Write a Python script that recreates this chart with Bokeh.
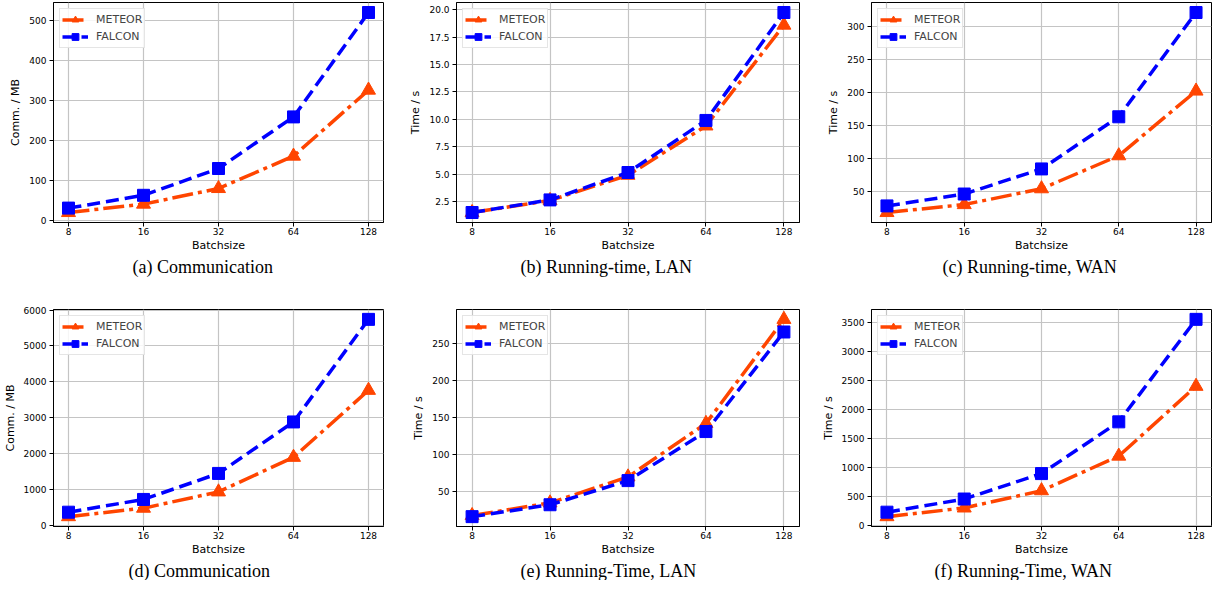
from bokeh.plotting import figure
from bokeh.layouts import gridplot
from bokeh.models import Range1d, FixedTicker, NumeralTickFormatter
from bokeh.embed import file_html
from bokeh.resources import INLINE

# ---------------- data ----------------
batch = [8, 16, 32, 64, 128]

a_meteor = [21, 42, 81, 162, 327]
a_falcon = [32, 64, 131, 260, 521]
b_meteor = [1.5, 2.6, 4.9, 9.4, 18.6]
b_falcon = [1.5, 2.65, 5.15, 9.9, 19.75]
c_meteor = [18, 30, 54, 104, 202]
c_falcon = [28, 46, 84, 163, 321]
d_meteor = [234, 470, 925, 1890, 3760]
d_falcon = [358, 714, 1440, 2877, 5740]
e_meteor = [18, 35, 70, 142, 282]
e_falcon = [16.5, 32.5, 65, 131, 265]
f_meteor = [150, 300, 598, 1195, 2400]
f_falcon = [227, 454, 893, 1786, 3555]

a_ticks = [0, 100, 200, 300, 400, 500]
b_ticks = [2.5, 5.0, 7.5, 10.0, 12.5, 15.0, 17.5, 20.0]
c_ticks = [50, 100, 150, 200, 250, 300]
d_ticks = [0, 1000, 2000, 3000, 4000, 5000, 6000]
e_ticks = [50, 100, 150, 200, 250]
f_ticks = [0, 500, 1000, 1500, 2000, 2500, 3000, 3500]

captions = ["(a) Communication", "(b) Running-time, LAN", "(c) Running-time, WAN",
            "(d) Communication", "(e) Running-Time, LAN", "(f) Running-Time, WAN"]
ylabels = ["Comm. / MB", "Time / s", "Time / s", "Comm. / MB", "Time / s", "Time / s"]
xlabel = "Batchsize"
names = ["METEOR", "FALCON"]

ORANGE = "#FF4500"
BLUE = "#0000FF"


def make(meteor, falcon, ticks, fmt, caption, ylabel, w, h, mbl, mbr, mbt, mbb, cap_off):
    lo = min(min(meteor), min(falcon))
    hi = max(max(meteor), max(falcon))
    pad = 0.05 * (hi - lo)
    p = figure(width=w, height=h, x_axis_type="log",
               x_range=Range1d(batch[0] / 2 ** 0.2, batch[-1] * 2 ** 0.2),
               y_range=Range1d(lo - pad, hi + pad),
               output_backend="svg", toolbar_location=None,
               title=caption, title_location="below",
               min_border_left=mbl, min_border_right=mbr,
               min_border_top=mbt, min_border_bottom=mbb)
    p.title.align = "left"
    p.title.offset = cap_off
    p.title.text_font = "Liberation Serif"
    p.title.text_font_size = "18px"
    p.title.text_font_style = "normal"
    p.title.text_color = "black"
    p.title.standoff = 0

    p.line(batch, meteor, color=ORANGE, line_width=3.5, line_dash="21 5 4 5", legend_label=names[0])
    p.scatter(batch, meteor, marker="triangle", size=14, color=ORANGE, legend_label=names[0])
    p.line(batch, falcon, color=BLUE, line_width=3.5, line_dash="13 6", legend_label=names[1])
    p.scatter(batch, falcon, marker="square", size=12, color=BLUE, legend_label=names[1])

    p.xaxis.ticker = FixedTicker(ticks=batch)
    p.xaxis.formatter = NumeralTickFormatter(format="0")
    p.yaxis.ticker = FixedTicker(ticks=ticks)
    p.yaxis.formatter = NumeralTickFormatter(format=fmt)
    p.xaxis.axis_label = xlabel
    p.yaxis.axis_label = ylabel

    for ax in (p.xaxis, p.yaxis):
        ax.axis_line_color = "black"
        ax.major_tick_line_color = "black"
        ax.major_tick_out = 4
        ax.major_tick_in = 0
        ax.minor_tick_line_color = None
        ax.major_label_text_font = "DejaVu Sans"
        ax.major_label_text_font_size = "9px"
        ax.major_label_text_color = "black"
        ax.axis_label_text_font = "DejaVu Sans"
        ax.axis_label_text_font_size = "11px"
        ax.axis_label_text_font_style = "normal"
        ax.axis_label_text_color = "black"
    p.xaxis.major_label_standoff = 1
    p.xaxis.axis_label_standoff = 1
    p.yaxis.major_label_standoff = 3
    p.yaxis.axis_label_standoff = 4

    p.grid.grid_line_color = "#c4c4c4"
    p.grid.grid_line_width = 1.2
    p.outline_line_color = "black"
    p.outline_line_width = 1
    p.background_fill_color = "white"
    p.border_fill_color = "white"

    lg = p.legend[0]
    lg.location = "top_left"
    lg.margin = 6
    lg.padding = 2
    lg.spacing = 0
    lg.glyph_width = 26
    lg.glyph_height = 17
    lg.label_height = 17
    lg.label_standoff = 8
    lg.label_text_font = "DejaVu Sans"
    lg.label_text_font_size = "11px"
    lg.border_line_color = "#cccccc"
    lg.border_line_width = 1
    lg.background_fill_alpha = 0.85
    return p


# row 1 height 286, row 2 height 294; column widths 404
pa = make(a_meteor, a_falcon, a_ticks, "0", captions[0], ylabels[0], 404, 286, 41, 21, 2, 64, 79)
pb = make(b_meteor, b_falcon, b_ticks, "0.0", captions[1], ylabels[1], 404, 286, 52, 9, 2, 64, 64)
pc = make(c_meteor, c_falcon, c_ticks, "0", captions[2], ylabels[2], 404, 286, 57, 1, 2, 64, 71)
pd = make(d_meteor, d_falcon, d_ticks, "0", captions[3], ylabels[3], 404, 294, 45, 20, 23, 46, 75)
pe = make(e_meteor, e_falcon, e_ticks, "0", captions[4], ylabels[4], 404, 294, 50, 9, 19, 46, 64)
pf = make(f_meteor, f_falcon, f_ticks, "0", captions[5], ylabels[5], 404, 294, 63, 1, 19, 46, 63)

grid = gridplot([[pa, pb, pc], [pd, pe, pf]], toolbar_location=None)

open("out.html", "w").write(file_html(grid, INLINE))
